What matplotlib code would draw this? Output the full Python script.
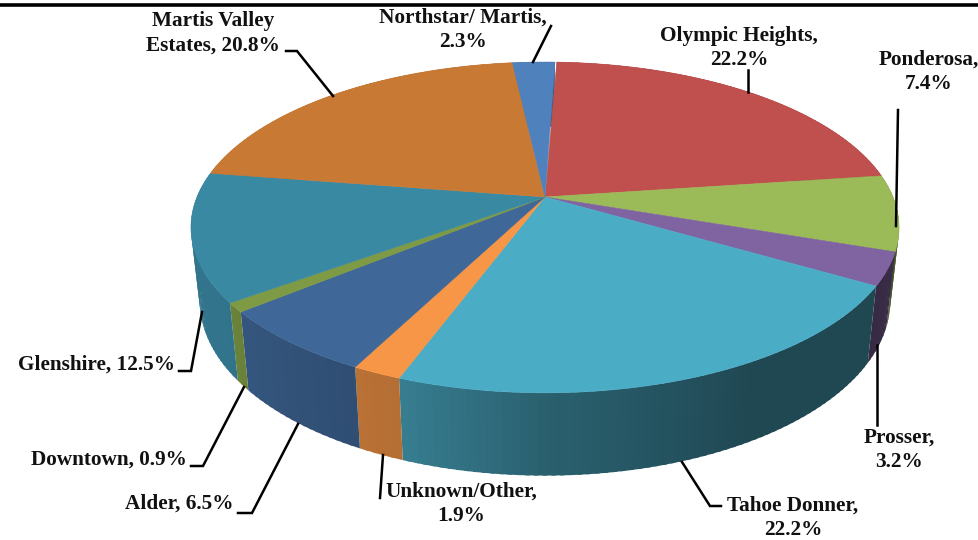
import numpy as np
import matplotlib
matplotlib.use("Agg")
import matplotlib.pyplot as plt

categories = ["Olympic Heights", "Ponderosa", "Prosser", "Tahoe Donner", "Unknown/Other",
              "Alder", "Downtown", "Glenshire", "Martis Valley\nEstates", "Northstar/ Martis"]
shares = [22.2, 7.4, 3.2, 22.2, 1.9, 6.5, 0.9, 12.5, 20.8, 2.3]
colors = ["#c0504d", "#9bbb59", "#8064a2", "#4bacc6", "#f79646",
          "#3f6797", "#7f9a45", "#3a89a3", "#c87a35", "#4f81bd"]

# label layout: x, block centre y, alignment, line break after the comma
label_layout = {
    "Olympic Heights": (739, 48, "center", True),
    "Ponderosa": (929, 72, "center", True),
    "Prosser": (899, 450, "center", True),
    "Tahoe Donner": (793, 518, "center", True),
    "Unknown/Other": (461, 504, "center", True),
    "Alder": (234, 504, "right", False),
    "Downtown": (187, 460, "right", False),
    "Glenshire": (175, 365, "right", False),
    "Martis Valley\nEstates": (213, 33, "center", False),
    "Northstar/ Martis": (463, 30, "center", True),
}
leaders = [
    [(286, 51), (297, 51), (333, 96)],
    [(551, 26), (533, 62)],
    [(748, 70), (748, 92)],
    [(898, 110), (896, 226)],
    [(877, 345), (877, 425)],
    [(682, 462), (710, 506), (721, 506)],
    [(383, 455), (380, 498)],
    [(298, 424), (252, 513), (238, 513)],
    [(244, 387), (203, 466), (191, 466)],
    [(202, 312), (191, 371), (179, 371)],
]

CX, CY, R, A, K = 545.0, 197.0, 348.0, 159.8, 0.184
BOTTOM_X, BOTTOM_Y, BOTTOM_OFF = 0.975, 1.055, 72.0
START = 87.7


def top_rim(deg):
    t = np.radians(deg)
    w = 1 + K * np.sin(t)
    return R * np.cos(t) / w, -A * np.sin(t) / w


def wall_shade(deg):
    d = (np.asarray(deg) + 360) % 360
    return np.interp(d, [0, 150, 180, 215, 250, 270, 300, 330, 360],
                     [0.50, 0.85, 0.85, 0.85, 0.73, 0.56, 0.42, 0.42, 0.50])


def shade(color, f):
    return tuple(c * f for c in matplotlib.colors.to_rgb(color))


plt.rcParams["font.family"] = ["Liberation Serif", "DejaVu Serif"]
fig = plt.figure(figsize=(9.79, 5.4), dpi=100)
ax = fig.add_axes([0, 0, 1, 1])
ax.set_xlim(0, 979)
ax.set_ylim(540, 0)
ax.axis("off")

edges = START - np.cumsum([0] + shares) * 3.6

# side wall, built from narrow overlapping strips so the shade varies smoothly
for i, color in enumerate(colors):
    n = max(int(abs(edges[i] - edges[i + 1]) / 1.2), 2)
    ts = np.linspace(edges[i], edges[i + 1], n + 1)
    for a, b in zip(ts[:-1], ts[1:]):
        b2 = max(b - 0.6, edges[i + 1])
        xa, ya = top_rim(a)
        xb, yb = top_rim(b2)
        poly_x = [CX + xa, CX + xb, CX + BOTTOM_X * xb, CX + BOTTOM_X * xa]
        poly_y = [CY + ya, CY + yb, CY + BOTTOM_OFF + BOTTOM_Y * yb, CY + BOTTOM_OFF + BOTTOM_Y * ya]
        c = shade(color, wall_shade((a + b) / 2))
        ax.fill(poly_x, poly_y, facecolor=c, edgecolor="none", zorder=2 + i * 0.01)

# top surface
for i, color in enumerate(colors):
    ts = np.linspace(edges[i], edges[i + 1], max(int(abs(edges[i] - edges[i + 1])), 2) + 1)
    xs, ys = top_rim(ts)
    ax.fill(np.r_[CX, CX + xs], np.r_[CY, CY + ys], facecolor=color, edgecolor=color,
            linewidth=0.4, zorder=3)

# leaders
for pts in leaders:
    px, py = zip(*pts)
    ax.plot(px, py, color="black", lw=1.8, zorder=4, solid_joinstyle="miter")

# labels
for name, val in zip(categories, shares):
    x, y, ha, brk = label_layout[name]
    sep = ",\n" if brk else ", "
    ax.text(x, y, f"{name}{sep}{val}%", ha=ha, va="center", multialignment="center",
            fontsize=15.3, fontweight="bold", color="#111111", linespacing=1.3, zorder=5)

# rule across the top
ax.axhline(4.5, color="black", lw=2.6, zorder=6)

fig.savefig("out.png", dpi=100)
